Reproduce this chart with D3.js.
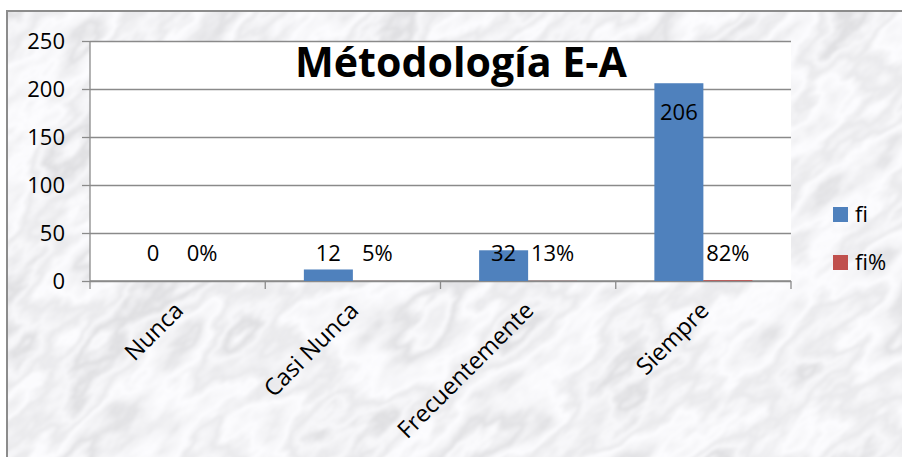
<html>
<head>
<script src="https://d3js.org/d3.v7.min.js"></script>
<style>
  body { margin: 0; background: #fff; }
  text { font-family: "Open Sans", sans-serif; fill: #000; }
  .grid line { stroke: #8a8a8a; stroke-width: 1.3px; }
</style>
</head>
<body>
<svg id="chart" width="902" height="457"></svg>
<script>
// data
const categories = ["Nunca", "Casi Nunca", "Frecuentemente", "Siempre"];
const series = ["fi", "fi%"];
const fi = [0, 12, 32, 206];
const fiPct = [0, 0.048, 0.128, 0.824];
const yTicks = [0, 50, 100, 150, 200, 250];
const colors = { "fi": "#4f81bd", "fi%": "#c0504d" };

const svg = d3.select("svg#chart");
const W = 902, H = 457;
const plot = { left: 90, right: 791, top: 41, bottom: 281 };

// marble background
const defs = svg.append("defs");
const f = defs.append("filter").attr("id", "marble")
  .attr("filterUnits", "userSpaceOnUse")
  .attr("x", -600).attr("y", -600).attr("width", 2200).attr("height", 1800);
f.append("feTurbulence").attr("type", "fractalNoise")
  .attr("baseFrequency", "0.007 0.016").attr("numOctaves", 5).attr("seed", 11);
f.append("feColorMatrix").attr("type", "matrix")
  .attr("values", "1 0 0 0 0  1 0 0 0 0  1 0 0 0 0  0 0 0 0 1");
const ct = f.append("feComponentTransfer");
const tbl = "0.93 0.86 0.96 0.76 0.90 0.98 0.82 0.94 0.74 0.96 0.88 0.99";
ct.append("feFuncR").attr("type", "table").attr("tableValues", tbl);
ct.append("feFuncG").attr("type", "table").attr("tableValues", tbl);
ct.append("feFuncB").attr("type", "table").attr("tableValues", tbl.split(" ").map(v => Math.min(1, +v + 0.02)).join(" "));
f.append("feGaussianBlur").attr("stdDeviation", 1.2);
defs.append("clipPath").attr("id", "bgclip")
  .append("rect").attr("x", 7).attr("y", 11).attr("width", W - 7).attr("height", H - 11);

svg.append("g").attr("clip-path", "url(#bgclip)")
  .append("g").attr("transform", "rotate(-40,450,230)")
  .append("rect").attr("x", -400).attr("y", -500).attr("width", 1700).attr("height", 1400)
  .attr("fill", "#eee").attr("filter", "url(#marble)");

// outer border
svg.append("path").attr("d", `M7,${H}V11H${W}`)
  .attr("fill", "none").attr("stroke", "#8c8c8c").attr("stroke-width", 2);

// scales
const x = d3.scaleBand().domain(categories).range([plot.left, plot.right]);
const xs = d3.scaleBand().domain(series).range([0, x.bandwidth()])
  .paddingInner(0).paddingOuter(0.788);
const y = d3.scaleLinear().domain([0, 250]).range([plot.bottom, plot.top]);

// plot area
svg.append("rect").attr("x", plot.left).attr("y", plot.top)
  .attr("width", plot.right - plot.left).attr("height", plot.bottom - plot.top)
  .attr("fill", "#fff");

// gridlines + y axis
const yAxis = svg.append("g").attr("class", "grid")
  .attr("transform", `translate(${plot.left},0)`)
  .call(d3.axisLeft(y).tickValues(yTicks).tickSize(-(plot.right - plot.left)).tickPadding(0).tickFormat(""));
yAxis.select(".domain").remove();
yAxis.selectAll(".tick").append("line").attr("x1", -8).attr("x2", 0);

svg.append("g").selectAll("text").data(yTicks).join("text")
  .attr("x", plot.left - 25).attr("y", d => y(d)).attr("dy", "0.36em")
  .attr("text-anchor", "end").attr("font-size", 22).text(d => d);

svg.append("line").attr("x1", plot.left).attr("x2", plot.left)
  .attr("y1", plot.top).attr("y2", plot.bottom)
  .attr("stroke", "#8a8a8a").attr("stroke-width", 1.3);

// x axis
const xTicks = categories.map(c => x(c)).concat([plot.right]);
svg.append("line").attr("x1", plot.left).attr("x2", plot.right)
  .attr("y1", plot.bottom).attr("y2", plot.bottom)
  .attr("stroke", "#8a8a8a").attr("stroke-width", 1.3);
svg.append("g").selectAll("line").data(xTicks).join("line")
  .attr("x1", d => d).attr("x2", d => d)
  .attr("y1", plot.bottom).attr("y2", plot.bottom + 8)
  .attr("stroke", "#8a8a8a").attr("stroke-width", 1.3);

svg.append("g").selectAll("text").data(categories).join("text")
  .attr("transform", d => `translate(${x(d) + x.bandwidth() / 2 + 7},312) rotate(-45)`)
  .attr("text-anchor", "end").attr("font-size", 23.5).text(d => d);

// bars
const rows = categories.map((c, i) => ({ cat: c, vals: [
  { s: "fi", v: fi[i], label: String(fi[i]) },
  { s: "fi%", v: fiPct[i], label: d3.format(".0%")(fiPct[i]) }
] }));

const groups = svg.append("g").selectAll("g").data(rows).join("g")
  .attr("transform", d => `translate(${x(d.cat)},0)`);

groups.selectAll("rect").data(d => d.vals).join("rect")
  .attr("x", d => xs(d.s)).attr("width", xs.bandwidth())
  .attr("y", d => y(d.v)).attr("height", d => y(0) - y(d.v))
  .attr("fill", d => colors[d.s]);

groups.selectAll("text").data(d => d.vals).join("text")
  .attr("x", d => xs(d.s) + xs.bandwidth() / 2)
  .attr("y", d => (y(0) - y(d.v) > 60) ? y(d.v) + 37 : y(0) - 20)
  .attr("text-anchor", "middle").attr("font-size", 22).text(d => d.label);

// title
svg.append("text").attr("x", 461).attr("y", 77).attr("text-anchor", "middle")
  .attr("font-size", 42).attr("font-weight", "bold")
  .attr("textLength", 332).attr("lengthAdjust", "spacingAndGlyphs")
  .text("Métodología E-A");

// legend
const leg = svg.append("g").selectAll("g").data(series).join("g")
  .attr("transform", (d, i) => `translate(833,${207 + i * 48})`);
leg.append("rect").attr("width", 15).attr("height", 15).attr("fill", d => colors[d]);
leg.append("text").attr("x", 22).attr("y", 15).attr("font-size", 22).text(d => d);
</script>
</body>
</html>
